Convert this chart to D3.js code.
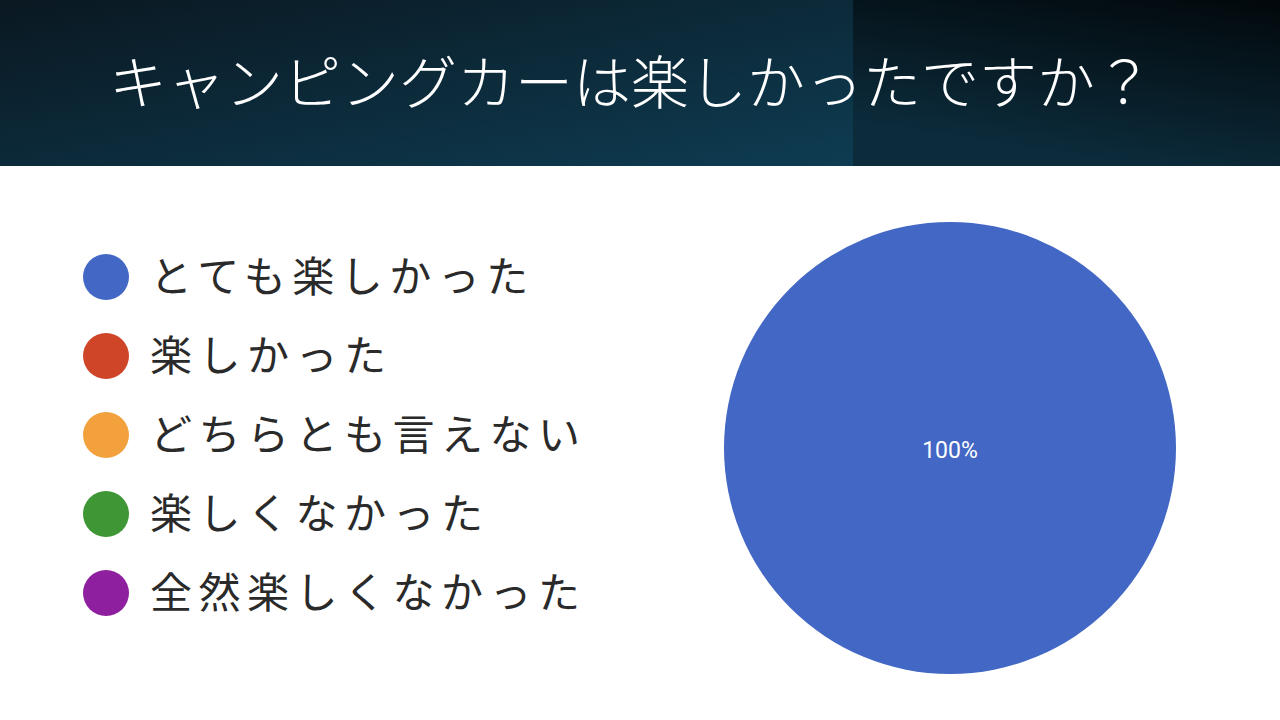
<!DOCTYPE html>
<html><head><meta charset="utf-8">
<script src="https://cdn.jsdelivr.net/npm/d3@7"></script>
<style>html,body{margin:0;padding:0;background:#fff;overflow:hidden}</style>
</head><body>
<svg id="c" width="1280" height="720"></svg>
<script>
const title = "キャンピングカーは楽しかったですか？";
const categories = ["とても楽しかった","楽しかった","どちらとも言えない","楽しくなかった","全然楽しくなかった"];
const values = [100, 0, 0, 0, 0];
const colors = ["#4367c4","#cf4527","#f2a13c","#3f9634","#8e1f9e"];

const svg = d3.select("#c");
const defs = svg.append("defs");
const g1 = defs.append("linearGradient").attr("id","hl").attr("x1","0").attr("y1","0").attr("x2","1").attr("y2","1");
g1.append("stop").attr("offset","0").attr("stop-color","#0a1821");
g1.append("stop").attr("offset","1").attr("stop-color","#0e3c52");
const g2 = defs.append("linearGradient").attr("id","hr").attr("x1","1").attr("y1","0").attr("x2","0.6").attr("y2","1");
g2.append("stop").attr("offset","0").attr("stop-color","#02080b");
g2.append("stop").attr("offset","1").attr("stop-color","#0c2c3c");

svg.append("rect").attr("x",0).attr("y",0).attr("width",854).attr("height",166).attr("fill","url(#hl)");
svg.append("rect").attr("x",853).attr("y",0).attr("width",427).attr("height",166).attr("fill","url(#hr)");

svg.append("text").attr("x",631).attr("y",104).attr("text-anchor","middle")
  .attr("fill","#fff").attr("font-family","'Noto Sans CJK JP'").attr("font-weight",300)
  .attr("font-size",58).text(title);

// Legend
const ly = d3.scalePoint().domain(categories).range([277, 593]);
const color = d3.scaleOrdinal().domain(categories).range(colors);
const leg = svg.append("g");
const rows = leg.selectAll("g").data(categories).join("g").attr("transform", d => `translate(0,${ly(d)})`);
rows.append("circle").attr("cx",106).attr("cy",0).attr("r",23).attr("fill", d => color(d));
rows.append("text").attr("x",150).attr("y",15).attr("fill","#2a2a2a")
  .attr("font-family","'Noto Sans CJK JP'").attr("font-weight",400)
  .attr("font-size",42).attr("letter-spacing",6.5).text(d => d);

// Pie
const cx = 950, cy = 448, R = 226;
const pie = d3.pie().sort(null).value(d => d.v);
const data = pie(categories.map((c,i) => ({c, v: values[i]})));
const arc = d3.arc().innerRadius(0).outerRadius(R);
const pg = svg.append("g").attr("transform", `translate(${cx},${cy})`);
pg.selectAll("path").data(data.filter(d => d.data.v > 0)).join("path")
  .attr("d", arc).attr("fill", d => color(d.data.c));
const total = d3.sum(values);
pg.selectAll("text.lbl").data(data.filter(d => d.data.v > 0)).join("text").attr("class","lbl")
  .attr("transform", d => (d.endAngle - d.startAngle) >= 2*Math.PI - 1e-6 ? "translate(0,2)" : `translate(${arc.centroid(d)})`)
  .attr("text-anchor","middle").attr("dy","0.35em").attr("fill","#fff")
  .attr("font-family","Roboto, Arial, sans-serif").attr("font-size",23)
  .text(d => Math.round(d.data.v / total * 100) + "%");
</script>
</body></html>
